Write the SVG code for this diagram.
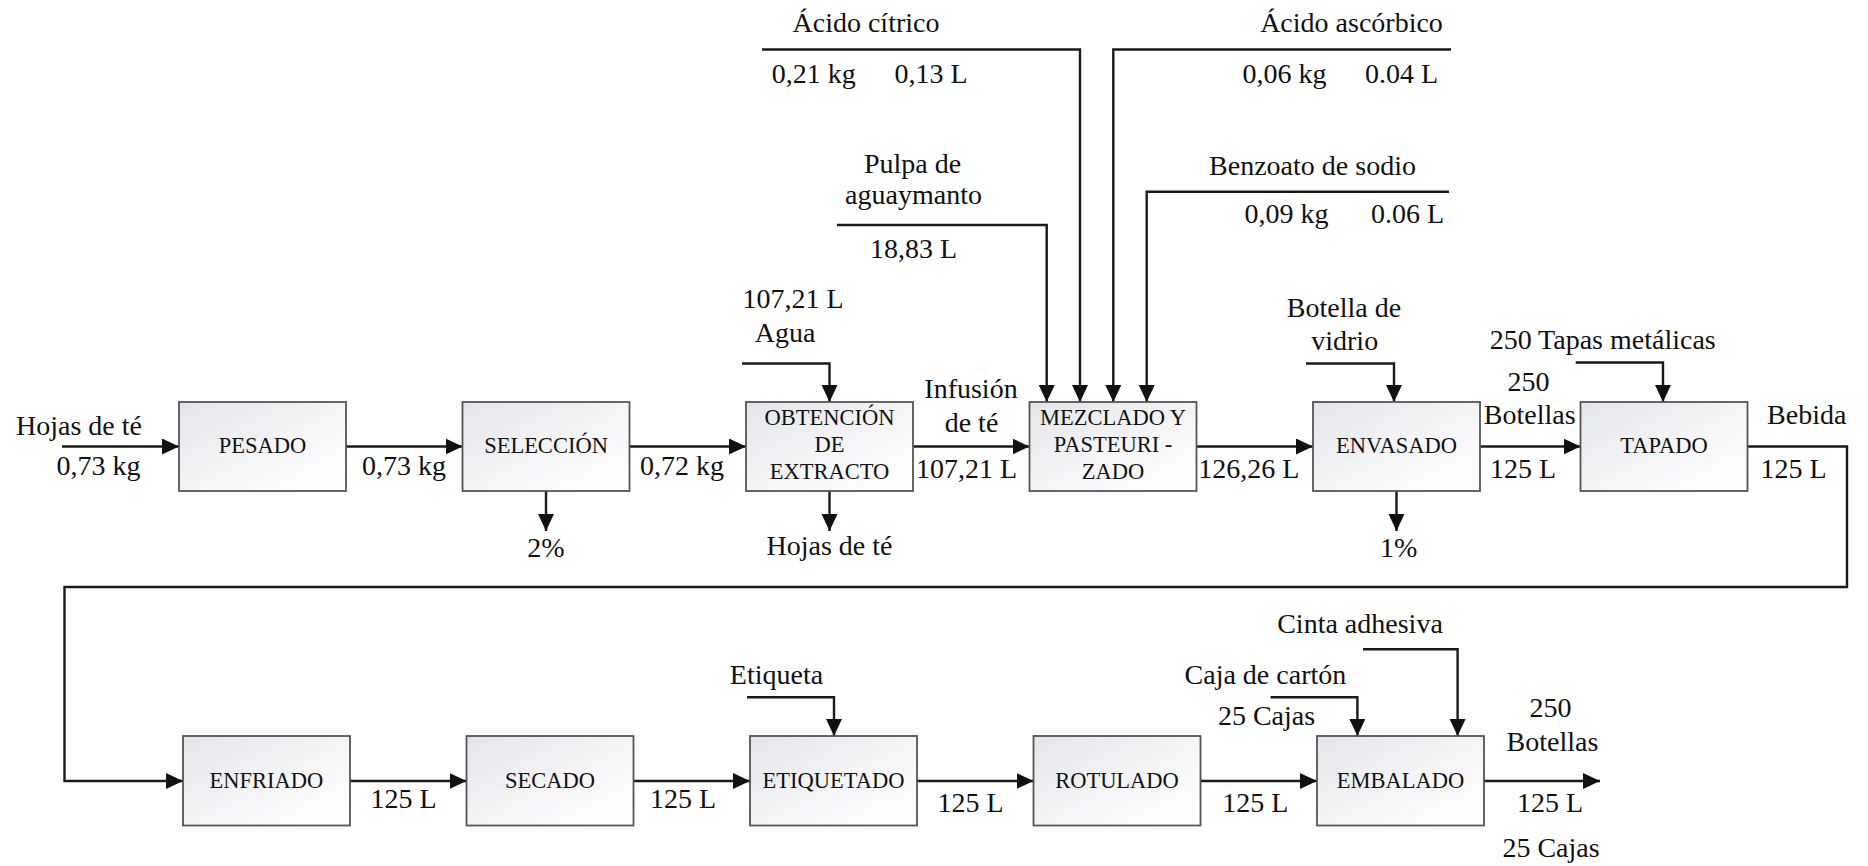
<svg xmlns="http://www.w3.org/2000/svg" width="1868" height="866" viewBox="0 0 1868 866">
<defs>
<linearGradient id="bg" x1="0" y1="0" x2="1" y2="1">
<stop offset="0" stop-color="#e4e5ea"/>
<stop offset="0.6" stop-color="#f7f7f9"/>
<stop offset="1" stop-color="#ffffff"/>
</linearGradient>
<marker id="ah" markerUnits="userSpaceOnUse" markerWidth="18" markerHeight="17" refX="17" refY="8" orient="auto">
<path d="M0,0 L17,8 L0,16 z" fill="#111"/>
</marker>
</defs>
<style>
.box{fill:url(#bg);stroke:#555;stroke-width:1.8}
.bt{font-family:"Liberation Serif","Times New Roman",serif;font-size:22.5px;fill:#111;text-anchor:middle}
.t{font-family:"Liberation Serif","Times New Roman",serif;font-size:28px;fill:#111;text-anchor:middle}
.c{fill:none;stroke:#1a1a1a;stroke-width:2.4}
.a{fill:none;stroke:#1a1a1a;stroke-width:2.4;marker-end:url(#ah)}
</style>
<rect width="1868" height="866" fill="#fff"/>

<g id="connectors">
<path class="a" d="M62,446.5 H179"/>
<path class="a" d="M346,446.5 H462.5"/>
<path class="a" d="M629.5,446.5 H746"/>
<path class="a" d="M913,446.5 H1029.5"/>
<path class="a" d="M1196.5,446.5 H1313"/>
<path class="a" d="M1480,446.5 H1580.5"/>
<path class="a" d="M1747.5,446.5 H1847 V587 H64.5 V781 H183"/>
<path class="a" d="M546,491 V531"/>
<path class="a" d="M829.5,491 V531"/>
<path class="a" d="M1396.5,491 V531"/>
<path class="a" d="M742,363.5 H829.5 V402"/>
<path class="a" d="M762,49.5 H1080 V402"/>
<path class="a" d="M1451,49.5 H1113.3 V402"/>
<path class="a" d="M837,225 H1046.7 V402"/>
<path class="a" d="M1449,191.7 H1146.7 V402"/>
<path class="a" d="M1306,363.5 H1394 V402"/>
<path class="a" d="M1575.7,362.5 H1663 V402"/>
<path class="a" d="M350,781 H466.5"/>
<path class="a" d="M633.5,781 H750"/>
<path class="a" d="M917,781 H1033.5"/>
<path class="a" d="M1200.5,781 H1317"/>
<path class="a" d="M1484,781 H1600"/>
<path class="a" d="M747,697.3 H834 V736"/>
<path class="a" d="M1270.5,697.3 H1357.4 V736"/>
<path class="a" d="M1363,649.3 H1457.6 V736"/>
</g>

<g id="pesado"><rect class="box" x="179" y="402" width="167" height="89"/><text class="bt" x="262.5" y="453">PESADO</text></g>
<g id="seleccion"><rect class="box" x="462.5" y="402" width="167" height="89"/><text class="bt" x="546" y="453">SELECCIÓN</text></g>
<g id="obtencion"><rect class="box" x="746" y="402" width="167" height="89"/><text class="bt" x="829.5" y="425">OBTENCIÓN</text><text class="bt" x="829.5" y="452">DE</text><text class="bt" x="829.5" y="479">EXTRACTO</text></g>
<g id="mezclado"><rect class="box" x="1029.5" y="402" width="167" height="89"/><text class="bt" x="1113" y="425">MEZCLADO Y</text><text class="bt" x="1113" y="452">PASTEURI -</text><text class="bt" x="1113" y="479">ZADO</text></g>
<g id="envasado"><rect class="box" x="1313" y="402" width="167" height="89"/><text class="bt" x="1396.5" y="453">ENVASADO</text></g>
<g id="tapado"><rect class="box" x="1580.5" y="402" width="167" height="89"/><text class="bt" x="1664" y="453">TAPADO</text></g>
<g id="enfriado"><rect class="box" x="183" y="736" width="167" height="89.5"/><text class="bt" x="266.5" y="788">ENFRIADO</text></g>
<g id="secado"><rect class="box" x="466.5" y="736" width="167" height="89.5"/><text class="bt" x="550" y="788">SECADO</text></g>
<g id="etiquetado"><rect class="box" x="750" y="736" width="167" height="89.5"/><text class="bt" x="833.5" y="788">ETIQUETADO</text></g>
<g id="rotulado"><rect class="box" x="1033.5" y="736" width="167" height="89.5"/><text class="bt" x="1117" y="788">ROTULADO</text></g>
<g id="embalado"><rect class="box" x="1317" y="736" width="167" height="89.5"/><text class="bt" x="1400.5" y="788">EMBALADO</text></g>

<g id="labels">
<text class="t" x="79" y="435">Hojas de té</text>
<text class="t" x="98.5" y="475">0,73 kg</text>
<text class="t" x="404" y="475">0,73 kg</text>
<text class="t" x="682" y="475">0,72 kg</text>
<text class="t" x="546" y="557">2%</text>
<text class="t" x="793" y="308">107,21 L</text>
<text class="t" x="785" y="341.7">Agua</text>
<text class="t" x="829.5" y="555">Hojas de té</text>
<text class="t" x="971" y="398">Infusión</text>
<text class="t" x="971.5" y="431.7">de té</text>
<text class="t" x="966.5" y="478">107,21 L</text>
<text class="t" x="1248.7" y="478">126,26 L</text>
<text class="t" x="1344" y="316.7">Botella de</text>
<text class="t" x="1344.7" y="350">vidrio</text>
<text class="t" x="1398.7" y="556.7">1%</text>
<text class="t" x="1602.7" y="349.3">250 Tapas metálicas</text>
<text class="t" x="1528.4" y="390.7">250</text>
<text class="t" x="1529.7" y="424.3">Botellas</text>
<text class="t" x="1523" y="478">125 L</text>
<text class="t" x="1806.7" y="424.3">Bebida</text>
<text class="t" x="1793.5" y="478">125 L</text>
<text class="t" x="866" y="32">Ácido cítrico</text>
<text class="t" x="813.7" y="83">0,21 kg</text>
<text class="t" x="931" y="83">0,13 L</text>
<text class="t" x="1351.5" y="32">Ácido ascórbico</text>
<text class="t" x="1284.5" y="83">0,06 kg</text>
<text class="t" x="1401.5" y="83">0.04 L</text>
<text class="t" x="912.5" y="173.3">Pulpa de</text>
<text class="t" x="913.5" y="204">aguaymanto</text>
<text class="t" x="913.5" y="258">18,83 L</text>
<text class="t" x="1312.5" y="175">Benzoato de sodio</text>
<text class="t" x="1286.5" y="223">0,09 kg</text>
<text class="t" x="1407.5" y="223">0.06 L</text>
<text class="t" x="403.6" y="808.3">125 L</text>
<text class="t" x="683" y="808.3">125 L</text>
<text class="t" x="776.5" y="684">Etiqueta</text>
<text class="t" x="970.5" y="812.3">125 L</text>
<text class="t" x="1255.3" y="812.3">125 L</text>
<text class="t" x="1265.4" y="684">Caja de cartón</text>
<text class="t" x="1266.5" y="725">25 Cajas</text>
<text class="t" x="1360" y="632.7">Cinta adhesiva</text>
<text class="t" x="1550.5" y="716.7">250</text>
<text class="t" x="1552.4" y="751">Botellas</text>
<text class="t" x="1550" y="811.7">125 L</text>
<text class="t" x="1551" y="857.3">25 Cajas</text>
</g>
</svg>
